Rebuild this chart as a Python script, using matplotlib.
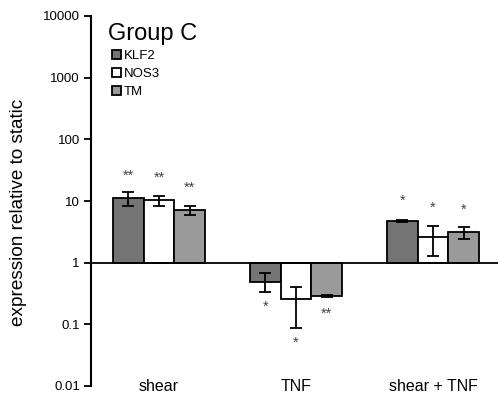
import matplotlib
matplotlib.use("Agg")
import matplotlib.pyplot as plt
import numpy as np

plt.rcParams['font.family'] = ['Liberation Sans', 'DejaVu Sans']

categories = ["shear", "TNF", "shear + TNF"]
series = ["KLF2", "NOS3", "TM"]
klf2 = [11.3, 0.49, 4.7]
nos3 = [10.3, 0.26, 2.6]
tm = [7.2, 0.286, 3.16]
klf2_hi = [13.8, 0.67, 4.9]
klf2_lo = [8.2, 0.33, 4.55]
nos3_hi = [12.2, 0.41, 3.95]
nos3_lo = [8.2, 0.087, 1.28]
tm_hi = [8.2, 0.30, 3.77]
tm_lo = [5.9, 0.275, 2.38]
stars_klf2 = ["**", "*", "*"]
stars_nos3 = ["**", "*", "*"]
stars_tm = ["**", "**", "*"]
star_y_klf2 = [26, 0.195, 10]
star_y_nos3 = [23.8, 0.05, 7.7]
star_y_tm = [16.2, 0.15, 7.2]
yticks = [0.01, 0.1, 1, 10, 100, 1000, 10000]
ytick_labels = ["0.01", "0.1", "1", "10", "100", "1000", "10000"]

colors = ["#747474", "#ffffff", "#9a9a9a"]

fig = plt.figure(figsize=(4.98, 3.96), dpi=100)
ax = fig.add_axes([91/498, 10/396, 1 - 91/498, 370/396])

x = np.arange(len(categories))
w = 0.223
vals = [klf2, nos3, tm]
his = [klf2_hi, nos3_hi, tm_hi]
los = [klf2_lo, nos3_lo, tm_lo]
stars = [stars_klf2, stars_nos3, stars_tm]
stary = [star_y_klf2, star_y_nos3, star_y_tm]
handles = []
for i in range(3):
    xs = x + (i - 1) * w
    v = np.array(vals[i])
    h = ax.bar(xs, v - 1, bottom=1, width=w, color=colors[i], edgecolor="black",
               linewidth=1.3, label=series[i], zorder=2)
    handles.append(h)
    yerr = np.array([v - np.array(los[i]), np.array(his[i]) - v])
    ax.errorbar(xs, v, yerr=yerr, fmt="none", ecolor="black", elinewidth=1.3,
                capsize=4, capthick=1.3, zorder=3)
    for xx, s, yy in zip(xs, stars[i], stary[i]):
        ax.text(xx, yy, s, ha="center", va="center", fontsize=10.5, color="#444444")

ax.set_yscale("log")
ax.set_ylim(0.01, 10000)
ax.set_xlim(-0.496, 2.474)
ax.axhline(1, color="black", linewidth=1.3, zorder=4)
ax.set_yticks(yticks)
ax.set_yticklabels(ytick_labels, fontsize=9.5)
ax.yaxis.set_minor_locator(matplotlib.ticker.NullLocator())
ax.tick_params(axis="y", direction="out", length=5, width=1.3, pad=3)
ax.set_xticks(x)
ax.set_xticklabels(categories, fontsize=11.5)
ax.tick_params(axis="x", length=0, pad=-5)
for sp in ["top", "right", "bottom"]:
    ax.spines[sp].set_visible(False)
ax.spines["left"].set_linewidth(1.5)
ax.set_ylabel("expression relative to static", fontsize=13.7)
ax.yaxis.set_label_coords(-0.157, 0.468)

ax.text(0.042, 0.982, "Group C", transform=ax.transAxes, fontsize=17, va="top", ha="left")
leg = ax.legend(handles=handles, loc="upper left", bbox_to_anchor=(0.032, 0.93),
                frameon=False, fontsize=9.5, handlelength=0.65, handleheight=0.65,
                handletextpad=0.25, labelspacing=0.45, borderpad=0.1)

fig.savefig("out.png", dpi=100)
